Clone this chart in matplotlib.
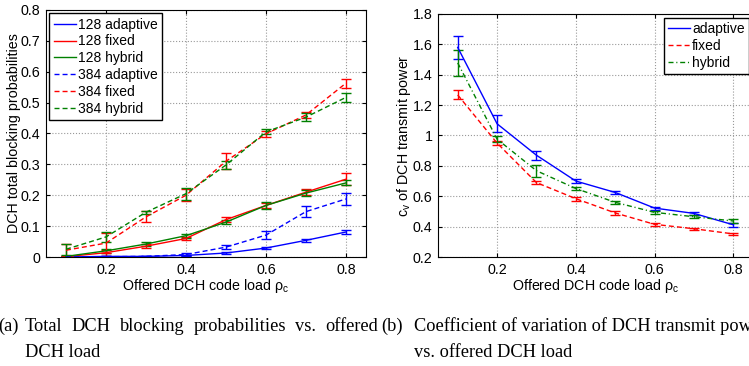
# Blocking probabilities and c_v of DCH transmit power vs. offered DCH code load
import numpy as np
from matplotlib import pyplot as plt
import matplotlib

matplotlib.rcParams.update({'font.family': 'Liberation Sans', 'font.size': 10,
                            'mathtext.fontset': 'custom',
                            'mathtext.rm': 'Liberation Sans',
                            'mathtext.it': 'Liberation Sans:italic'})

load = [0.1, 0.2, 0.3, 0.4, 0.5, 0.6, 0.7, 0.8]

# (a) total blocking probabilities
blk_128_adaptive = [0.000, 0.002, 0.002, 0.005, 0.013, 0.029, 0.054, 0.081]
err_128_adaptive = [0.001, 0.002, 0.002, 0.003, 0.003, 0.004, 0.004, 0.005]
blk_128_fixed = [0.001, 0.014, 0.035, 0.060, 0.121, 0.167, 0.210, 0.252]
err_128_fixed = [0.002, 0.010, 0.006, 0.006, 0.009, 0.009, 0.010, 0.020]
blk_128_hybrid = [0.002, 0.020, 0.042, 0.069, 0.113, 0.167, 0.207, 0.240]
err_128_hybrid = [0.002, 0.006, 0.005, 0.006, 0.006, 0.010, 0.010, 0.008]
blk_384_adaptive = [0.000, 0.001, 0.002, 0.008, 0.032, 0.071, 0.147, 0.188]
err_384_adaptive = [0.001, 0.001, 0.002, 0.004, 0.006, 0.012, 0.018, 0.020]
blk_384_fixed = [0.022, 0.045, 0.130, 0.200, 0.310, 0.399, 0.460, 0.563]
err_384_fixed = [0.020, 0.033, 0.018, 0.020, 0.026, 0.009, 0.010, 0.015]
blk_384_hybrid = [0.025, 0.065, 0.145, 0.205, 0.298, 0.405, 0.453, 0.517]
err_384_hybrid = [0.018, 0.017, 0.005, 0.020, 0.012, 0.008, 0.012, 0.014]

# (b) coefficient of variation of DCH transmit power
cv_adaptive = [1.58, 1.077, 0.870, 0.700, 0.625, 0.522, 0.487, 0.412]
cv_err_adaptive = [0.075, 0.055, 0.030, 0.015, 0.012, 0.010, 0.010, 0.015]
cv_fixed = [1.267, 0.950, 0.690, 0.584, 0.490, 0.415, 0.386, 0.352]
cv_err_fixed = [0.030, 0.012, 0.012, 0.012, 0.012, 0.010, 0.008, 0.006]
cv_hybrid = [1.478, 0.976, 0.768, 0.651, 0.560, 0.494, 0.465, 0.437]
cv_err_hybrid = [0.085, 0.020, 0.040, 0.012, 0.010, 0.010, 0.010, 0.010]

blue, red, green = (0, 0, 1), (1, 0, 0), (0, 0.5, 0)
dash = (3.6, 2.2)
dashdot = (3.6, 2.0, 0.8, 2.0)


def series(ax, x, y, e, color, ls, label):
    line, caps, bars = ax.errorbar(x, y, yerr=e, color=color, lw=1.0, elinewidth=1.0,
                                   capsize=3.5, capthick=1.0, label=label)
    if ls is not None:
        line.set_dashes(ls)


def style(ax):
    ax.set_xlim(0.05, 0.85)
    ax.set_xticks([0.2, 0.4, 0.6, 0.8])
    ax.tick_params(direction='in', length=3, width=0.8, top=True, right=True,
                   labelsize=10.3, pad=4)
    ax.grid(True, linestyle=':', color='0.6', lw=0.8)
    for s in ax.spines.values():
        s.set_linewidth(0.8)
    ax.xaxis.set_major_formatter(matplotlib.ticker.FuncFormatter(lambda v, p: ('%g' % round(v, 2))))
    ax.yaxis.set_major_formatter(matplotlib.ticker.FuncFormatter(lambda v, p: ('%g' % round(v, 2))))


fig = plt.figure(figsize=(7.49, 3.66), dpi=100)

ax1 = fig.add_axes([0.0614, 0.2978, 0.4272, 0.6749])
series(ax1, load, blk_128_adaptive, err_128_adaptive, blue, None, '128 adaptive')
series(ax1, load, blk_128_fixed, err_128_fixed, red, None, '128 fixed')
series(ax1, load, blk_128_hybrid, err_128_hybrid, green, None, '128 hybrid')
series(ax1, load, blk_384_adaptive, err_384_adaptive, blue, dash, '384 adaptive')
series(ax1, load, blk_384_fixed, err_384_fixed, red, dash, '384 fixed')
series(ax1, load, blk_384_hybrid, err_384_hybrid, green, dash, '384 hybrid')
style(ax1)
ax1.set_ylim(0, 0.8)
ax1.set_yticks(np.arange(0, 0.81, 0.1))
ax1.set_xlabel(r'Offered DCH code load ρ$_{\rm c}$', labelpad=0, fontsize=10.3)
ax1.set_ylabel('DCH total blocking probabilities', labelpad=0, fontsize=10.3)
h, l = ax1.get_legend_handles_labels()
leg = ax1.legend([x[0] for x in h], l, loc='upper left', fancybox=False, edgecolor='k',
                 framealpha=1, borderaxespad=0.25, handlelength=1.6, handletextpad=0.15,
                 labelspacing=0.2, borderpad=0.3, fontsize=10)
leg.get_frame().set_linewidth(1.0)

ax2 = fig.add_axes([0.5848, 0.2978, 0.4206, 0.664])
series(ax2, load, cv_adaptive, cv_err_adaptive, blue, None, 'adaptive')
series(ax2, load, cv_fixed, cv_err_fixed, red, dash, 'fixed')
series(ax2, load, cv_hybrid, cv_err_hybrid, green, dashdot, 'hybrid')
style(ax2)
ax2.set_ylim(0.2, 1.8)
ax2.set_yticks(np.arange(0.2, 1.81, 0.2))
ax2.set_xlabel(r'Offered DCH code load ρ$_{\rm c}$', labelpad=0, fontsize=10.3)
ax2.set_ylabel(r'c$_{\rm v}$ of DCH transmit power', labelpad=0, fontsize=10.3)
h, l = ax2.get_legend_handles_labels()
leg = ax2.legend([x[0] for x in h], l, loc='upper right', fancybox=False, edgecolor='k',
                 framealpha=1, borderaxespad=0.3, handlelength=1.6, handletextpad=0.15,
                 labelspacing=0.2, borderpad=0.3, fontsize=10)
leg.get_frame().set_linewidth(1.0)

# subfigure captions
cap = dict(family='Liberation Serif', fontsize=13.2, va='baseline')
W, H = 749.0, 366.0


def justify(words, x0, x1, y):
    texts = [fig.text(x0 / W, y, w, **cap) for w in words]
    r = fig.canvas.get_renderer()
    widths = [t.get_window_extent(r).width for t in texts]
    gap = (x1 - x0 - sum(widths)) / (len(words) - 1)
    x = x0
    for t, w in zip(texts, widths):
        t.set_x(x / W)
        x += w + gap


y1, y2 = 1 - 331 / H, 1 - 357 / H
fig.text(19 / W, y1, '(a)', ha='right', **cap)
justify('Total DCH blocking probabilities vs. offered'.split(), 25, 378, y1)
fig.text(25 / W, y2, 'DCH load', **cap)
fig.text(381 / W, y1, '(b)', **cap)
fig.text(414 / W, y1, 'Coefficient of variation of DCH transmit power', **cap)
fig.text(414 / W, y2, 'vs. offered DCH load', **cap)

plt.savefig('out.png', dpi=100)
